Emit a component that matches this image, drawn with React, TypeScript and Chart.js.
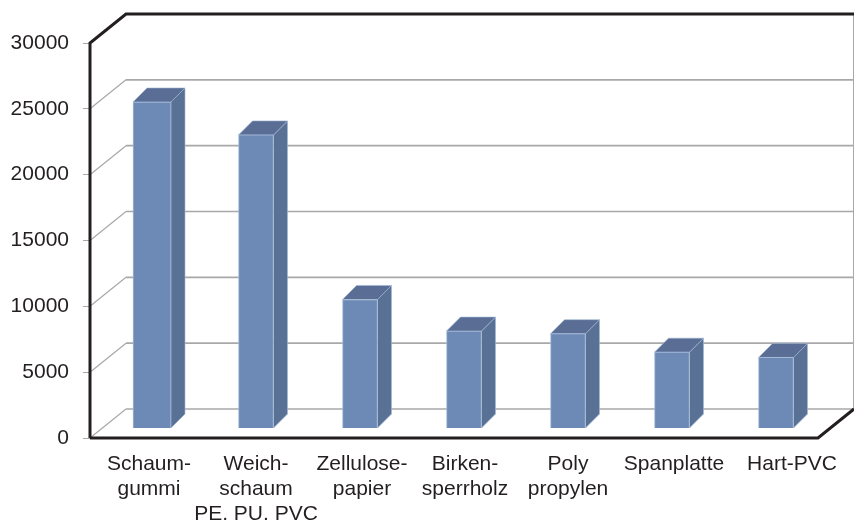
import React, { useEffect, useRef } from "react";
import { Chart, registerables } from "chart.js";

Chart.register(...registerables);

const categories: string[][] = [
  ["Schaum-", "gummi"],
  ["Weich-", "schaum", "PE. PU. PVC"],
  ["Zellulose-", "papier"],
  ["Birken-", "sperrholz"],
  ["Poly", "propylen"],
  ["Spanplatte"],
  ["Hart-PVC"],
];
const values = [24800, 22300, 9800, 7400, 7200, 5800, 5400];
const yTicks = [0, 5000, 10000, 15000, 20000, 25000, 30000];

// styling of the pseudo-3D look
const WALL_DX = 36;
const WALL_DY = -29;
const BAR_SHIFT_X = 10;
const BAR_SHIFT_Y = -9.5;
const BAR_DEPTH = 14;
const barWidths = [38, 35, 35, 35, 35, 35, 35];
const labelNudges = [7, 10, 12, 11, 10, 12, 26];
const FRONT = "#6d8ab6";
const SIDE = "#5a7196";
const TOP = "#5a6d94";
const EDGE = "#a3b8d6";
const AXIS = "#231f20";
const GRID = "#a8a8a8";

const polygon = (ctx: CanvasRenderingContext2D, pts: number[][], fill: string) => {
  ctx.beginPath();
  pts.forEach(([x, y], i) => (i ? ctx.lineTo(x, y) : ctx.moveTo(x, y)));
  ctx.closePath();
  ctx.fillStyle = fill;
  ctx.fill();
  ctx.strokeStyle = EDGE;
  ctx.lineWidth = 0.6;
  ctx.stroke();
};

const line = (ctx: CanvasRenderingContext2D, pts: number[][], color: string, width: number) => {
  ctx.beginPath();
  pts.forEach(([x, y], i) => (i ? ctx.lineTo(x, y) : ctx.moveTo(x, y)));
  ctx.strokeStyle = color;
  ctx.lineWidth = width;
  ctx.lineJoin = "miter";
  ctx.stroke();
};

const box3d = {
  id: "box3d",
  beforeDraw(chart: any) {
    const xs = chart.scales.x;
    xs.getLabelItems(chart.chartArea).forEach((item: any, i: number) => {
      item.options.translation[0] = xs.getPixelForTick(i) + labelNudges[i];
    });
  },
  beforeDatasetsDraw(chart: any) {
    const { ctx, chartArea: a, scales } = chart;
    const ys = scales.y;
    const backRight = a.right + WALL_DX - 0.5;
    ctx.save();
    line(ctx, [[backRight, a.top + WALL_DY], [backRight, a.bottom + WALL_DY]], GRID, 1);
    yTicks.forEach((v) => {
      const y = ys.getPixelForValue(v);
      if (v < 30000) {
        line(ctx, [[a.left, y], [a.left + WALL_DX, y + WALL_DY]], GRID, 1.2);
        line(ctx, [[a.left + WALL_DX, y + WALL_DY], [backRight, y + WALL_DY]], GRID, 1.6);
      }
    });
    line(ctx, [[a.left, a.bottom], [a.left, a.top], [a.left + WALL_DX, a.top + WALL_DY], [a.right + WALL_DX + 1, a.top + WALL_DY]], AXIS, 3);
    line(ctx, [[a.left, a.bottom], [a.right, a.bottom], [a.right + WALL_DX, a.bottom + WALL_DY]], AXIS, 3);

    const meta = chart.getDatasetMeta(0);
    meta.data.forEach((bar: any, i: number) => {
      bar.width = barWidths[i];
      const right = bar.x + BAR_SHIFT_X + barWidths[i] / 2;
      const left = right - barWidths[i];
      const top = bar.y + BAR_SHIFT_Y;
      const base = bar.base + BAR_SHIFT_Y;
      polygon(ctx, [[right, top], [right + BAR_DEPTH, top - BAR_DEPTH], [right + BAR_DEPTH, base - BAR_DEPTH], [right, base]], SIDE);
      polygon(ctx, [[left, top], [left + BAR_DEPTH, top - BAR_DEPTH], [right + BAR_DEPTH, top - BAR_DEPTH], [right, top]], TOP);
    });
    ctx.restore();
    ctx.save();
    ctx.translate(BAR_SHIFT_X, BAR_SHIFT_Y);
  },
  afterDatasetsDraw(chart: any) {
    chart.ctx.restore();
  },
};

export default function App() {
  const ref = useRef<HTMLCanvasElement>(null);
  useEffect(() => {
    const chart = new Chart(ref.current!, {
      type: "bar",
      data: {
        labels: categories as any,
        datasets: [
          {
            data: values,
            backgroundColor: FRONT,
            borderColor: EDGE,
            borderWidth: 1,
            barThickness: 35,
            clip: false as any,
          },
        ],
      },
      plugins: [box3d as any],
      options: {
        animation: false,
        responsive: false,
        layout: { padding: { top: 43, right: 36, left: 0, bottom: 0 } },
        plugins: { legend: { display: false }, tooltip: { enabled: false } },
        scales: {
          x: {
            afterFit: (s: any) => {
              s.height = 83;
            },
            grid: { display: false },
            border: { display: false },
            ticks: {
              autoSkip: false,
              maxRotation: 0,
              minRotation: 0,
              padding: 6,
              color: AXIS,
              font: { family: "'Liberation Sans', Arial, sans-serif", size: 21, lineHeight: 1.19 },
            },
          },
          y: {
            min: 0,
            max: 30000,
            afterFit: (s: any) => {
              s.width = 90;
            },
            afterBuildTicks: (s: any) => {
              s.ticks = yTicks.map((value) => ({ value }));
            },
            grid: { drawOnChartArea: false, drawTicks: true, tickLength: 7, color: GRID, lineWidth: 1 },
            border: { display: false },
            ticks: {
              padding: 14,
              color: AXIS,
              callback: (v: any) => String(v),
              font: { family: "'Liberation Sans', Arial, sans-serif", size: 21 },
            },
          },
        },
      },
    });
    return () => chart.destroy();
  }, []);
  return (
    <canvas
      ref={ref}
      width={854}
      height={521}
      style={{ position: "absolute", left: 0, top: 0, display: "block" }}
    />
  );
}
